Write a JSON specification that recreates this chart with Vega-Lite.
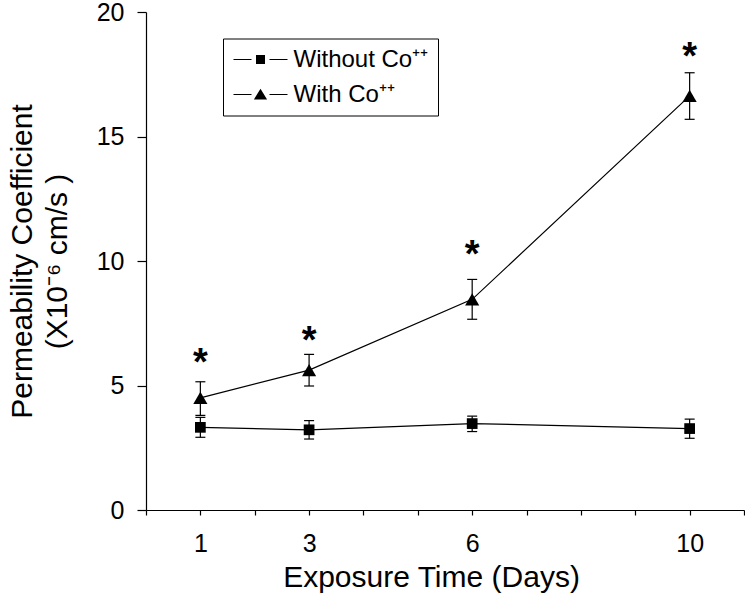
{
  "$schema": "https://vega.github.io/schema/vega-lite/v6.json",
  "width": 598,
  "height": 498,
  "autosize": {"type": "none"},
  "padding": {"left": 146, "top": 12, "right": 1, "bottom": 94},
  "config": {
    "font": "Liberation Sans",
    "view": {"stroke": null},
    "axis": {
      "domainColor": "black", "tickColor": "black", "labelColor": "black", "titleColor": "black",
      "domainWidth": 1.2, "tickWidth": 1.2, "grid": false, "titleFontWeight": "normal",
      "labelFont": "Liberation Sans", "titleFont": "Liberation Sans"
    }
  },
  "data": {
    "values": [
      {"day": 1, "group": "Without Co⁺⁺", "mean": 3.32, "lo": 2.92, "hi": 3.72, "star": null},
      {"day": 3, "group": "Without Co⁺⁺", "mean": 3.22, "lo": 2.85, "hi": 3.59, "star": null},
      {"day": 6, "group": "Without Co⁺⁺", "mean": 3.47, "lo": 3.15, "hi": 3.77, "star": null},
      {"day": 10, "group": "Without Co⁺⁺", "mean": 3.27, "lo": 2.88, "hi": 3.65, "star": null},
      {"day": 1, "group": "With Co⁺⁺", "mean": 4.5, "lo": 3.8, "hi": 5.15, "star": 6.27},
      {"day": 3, "group": "With Co⁺⁺", "mean": 5.62, "lo": 4.98, "hi": 6.25, "star": 7.15},
      {"day": 6, "group": "With Co⁺⁺", "mean": 8.46, "lo": 7.66, "hi": 9.26, "star": 10.6},
      {"day": 10, "group": "With Co⁺⁺", "mean": 16.63, "lo": 15.69, "hi": 17.56, "star": 18.54}
    ]
  },
  "encoding": {
    "x": {
      "field": "day", "type": "quantitative",
      "scale": {"domain": [0, 11], "nice": false, "zero": false},
      "axis": {
        "title": "Exposure Time (Days)",
        "values": [0, 1, 2, 3, 4, 5, 6, 7, 8, 9, 10, 11],
        "labelExpr": "(datum.value == 1 || datum.value == 3 || datum.value == 6 || datum.value == 10) ? datum.label : ''",
        "tickSize": 5, "labelFontSize": 25, "labelPadding": 16,
        "titleFontSize": 30, "titlePadding": 6, "titleX": 285, "titleAlign": "center",
        "labelFlush": false, "labelOverlap": false
      }
    }
  },
  "layer": [
    {
      "mark": {"type": "rule", "color": "black", "strokeWidth": 1.2},
      "encoding": {
        "y": {
          "field": "lo", "type": "quantitative",
          "scale": {"domain": [0, 20], "nice": false, "zero": false},
          "axis": {
            "title": ["Permeability Coefficient", "(X10⁻⁶ cm/s )"],
            "values": [0, 5, 10, 15, 20],
            "tickSize": 9, "labelFontSize": 25, "labelPadding": 13,
            "titleFontSize": 30, "titleLineHeight": 35, "titlePadding": 24
          }
        },
        "y2": {"field": "hi"}
      }
    },
    {
      "mark": {"type": "point", "shape": "stroke", "size": 100, "strokeWidth": 1.2, "color": "black", "opacity": 1},
      "encoding": {"y": {"field": "lo", "type": "quantitative"}}
    },
    {
      "mark": {"type": "point", "shape": "stroke", "size": 100, "strokeWidth": 1.2, "color": "black", "opacity": 1},
      "encoding": {"y": {"field": "hi", "type": "quantitative"}}
    },
    {
      "mark": {"type": "line", "color": "black", "strokeWidth": 1.2},
      "encoding": {
        "y": {"field": "mean", "type": "quantitative"},
        "detail": {"field": "group", "type": "nominal"}
      }
    },
    {
      "mark": {"type": "point", "filled": true, "color": "black", "opacity": 0, "size": 10},
      "encoding": {
        "y": {"field": "mean", "type": "quantitative"},
        "shape": {
          "field": "group", "type": "nominal",
          "scale": {
            "domain": ["Without Co⁺⁺", "With Co⁺⁺"],
            "range": [
              "M-2.7,-0.06H-0.9V0.06H-2.7ZM-0.45,-0.45H0.45V0.45H-0.45ZM0.9,-0.06H2.7V0.06H0.9Z",
              "M-2.7,-0.06H-0.9V0.06H-2.7ZM0,-0.58L0.66,0.5H-0.66ZM0.9,-0.06H2.7V0.06H0.9Z"
            ]
          },
          "legend": {
            "title": null, "orient": "none", "legendX": 77, "legendY": 26.5,
            "padding": 9, "strokeColor": "black", "fillColor": "white",
            "symbolSize": 400, "symbolOffset": 16.5, "labelOffset": 21,
            "labelFontSize": 24, "labelFont": "Liberation Sans", "labelColor": "black",
            "rowPadding": 11, "symbolFillColor": "black", "symbolStrokeColor": "black",
            "symbolStrokeWidth": 0, "symbolOpacity": 1
          }
        }
      }
    },
    {
      "transform": [{"filter": "datum.group == 'Without Co⁺⁺'"}],
      "mark": {"type": "point", "filled": true, "color": "black", "opacity": 1, "size": 115, "shape": "square"},
      "encoding": {"y": {"field": "mean", "type": "quantitative"}}
    },
    {
      "transform": [{"filter": "datum.group == 'With Co⁺⁺'"}],
      "mark": {"type": "point", "filled": true, "color": "black", "opacity": 1, "size": 200, "shape": "triangle-up"},
      "encoding": {"y": {"field": "mean", "type": "quantitative"}}
    },
    {
      "transform": [{"filter": "datum.star != null"}],
      "mark": {"type": "text", "text": "*", "fontSize": 38, "fontWeight": "bold", "baseline": "alphabetic", "align": "center", "dy": 21, "color": "black"},
      "encoding": {"y": {"field": "star", "type": "quantitative"}}
    }
  ]
}
